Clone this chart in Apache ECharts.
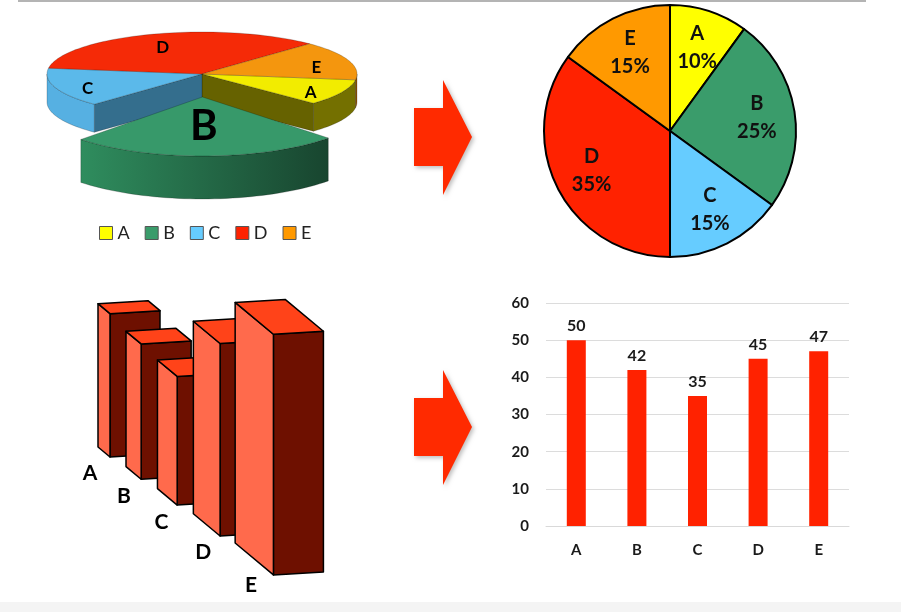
<!DOCTYPE html>
<html>
<head>
<meta charset="utf-8">
<style>
  html, body { margin: 0; padding: 0; background: #fff; }
  #main { width: 901px; height: 612px; }
</style>
<script src="https://cdn.jsdelivr.net/npm/echarts@6/dist/echarts.min.js"></script>
</head>
<body>
<div id="main"></div>
<script>
// ---- data ----
var names = ['A', 'B', 'C', 'D', 'E'];
var shares = [10, 25, 15, 35, 15];       // pie, percent
var barValues = [50, 42, 35, 45, 47];    // bar chart
var pulledOut = 'B';                     // exploded slice of the 3D pie

// ---- styles ----
var FONT = 'Lato, "Open Sans", sans-serif';
var pieColors = ['#ffff00', '#3a9c6b', '#66ccff', '#ff2200', '#ff9900'];
var topColors = ['#f2ec00', '#37996a', '#5bb9ea', '#f52a07', '#f4960e'];
var wallColors = ['#747000', '#2e8a5c', '#56b0e2', '#8a1a00', '#8c5200'];
var cutColors = ['#666200', '#24704b', '#346e8d', '#7a1500', '#7a4800'];

// layout of the tilted pie
var P3 = { cx: 202, cy: 74, rx: 155, ry: 42, depth: 28, start: 8,
           pull: 23, exRx: 175, exRy: 59, exDepth: 43 };
// layout of the perspective bars
var B3 = { x0: 98, y0: 447, persp: 0.11, stepX: 28, stepY: 19.6,
           sideX: 12, sideY: 10, frontX: 50, frontY: -3 };

var chart = echarts.init(document.getElementById('main'));

function pie3d(params, api) {
    var i = params.dataIndex, n = shares.length;
    var total = shares.reduce(function (a, b) { return a + b; }, 0);
    var cum = 0;
    for (var k = 0; k < i; k++) cum += shares[k];
    var a0 = P3.start + 360 * cum / total;
    var a1 = a0 + 360 * api.value(0) / total;
    var ex = names[i] === pulledOut;
    var cx = P3.cx, cy = P3.cy, rx = P3.rx, ry = P3.ry, dp = P3.depth;
    if (ex) {
        var m = (a0 + a1) / 2 * Math.PI / 180;
        cx += P3.pull * Math.cos(m);
        cy += P3.pull * Math.sin(m);
        rx = P3.exRx; ry = P3.exRy; dp = P3.exDepth;
    }
    function pt(deg, dz) {
        var r = deg * Math.PI / 180;
        return [cx + rx * Math.cos(r), cy + ry * Math.sin(r) + (dz || 0)];
    }
    function arc(s, e, dz) {
        var pts = [], steps = Math.max(2, Math.ceil((e - s) / 2));
        for (var j = 0; j <= steps; j++) pts.push(pt(s + (e - s) * j / steps, dz));
        return pts;
    }
    var edge = { stroke: 'rgba(0,0,0,0.35)', lineWidth: 0.6 };
    var zb = ex ? 10 : 0;
    var kids = [];

    // radial faces next to the pulled-out slice
    function cut(a) {
        kids.push({ type: 'polygon', z2: zb + 1,
            shape: { points: [[cx, cy], pt(a), pt(a, dp), [cx, cy + dp]] },
            style: Object.assign({ fill: cutColors[i] }, edge) });
    }
    if (!ex && names[(i + 1) % n] === pulledOut) cut(a1);
    if (!ex && names[(i + n - 1) % n] === pulledOut) cut(a0);

    // front walls
    [0, 360].forEach(function (base) {
        var lo = Math.max(a0, base), hi = Math.min(a1, base + 180);
        if (hi > lo) {
            var fill = ex ? { type: 'linear', x: 0, y: 0, x2: 1, y2: 0,
                colorStops: [{ offset: 0, color: '#2f8d5e' }, { offset: 1, color: '#18452f' }] }
                : wallColors[i];
            kids.push({ type: 'polygon', z2: zb + 2,
                shape: { points: arc(lo, hi, 0).concat(arc(lo, hi, dp).reverse()) },
                style: Object.assign({ fill: fill }, edge) });
        }
    });

    // top face
    kids.push({ type: 'polygon', z2: zb + 3,
        shape: { points: [[cx, cy]].concat(arc(a0, a1, 0)) },
        style: Object.assign({ fill: topColors[i] }, edge) });

    // label
    var mid = (a0 + a1) / 2 * Math.PI / 180, f = ex ? 0.5 : 0.78;
    kids.push({ type: 'text', z2: 30,
        style: { text: names[i], x: cx + rx * f * Math.cos(mid), y: cy + ry * f * Math.sin(mid) + (ex ? 0 : 4),
                 fill: '#000', fontSize: ex ? 42 : 17, fontWeight: 'bold', fontFamily: FONT,
                 align: 'center', verticalAlign: 'middle' } });
    return { type: 'group', children: kids };
}

function bar3d(params, api) {
    var i = api.value(0), v = api.value(1);
    var s = 1 / (1 - B3.persp * i);
    var h = api.size([0, v])[1] * s;
    var x = B3.x0, y = B3.y0;
    for (var j = 0; j < i; j++) {
        var sj = 1 / (1 - B3.persp * j);
        x += B3.stepX * sj; y += B3.stepY * sj;
    }
    var lx = B3.sideX * s * s, ly = B3.sideY * s * s;
    var fx = B3.frontX, fy = B3.frontY;
    var blT = [x, y - h], blB = [x, y];
    var flT = [x + lx, y - h + ly], flB = [x + lx, y + ly];
    var frT = [flT[0] + fx, flT[1] + fy], frB = [flB[0] + fx, flB[1] + fy];
    var brT = [x + fx, y - h + fy];
    var line = { stroke: '#000', lineWidth: 1.5, lineJoin: 'round' };
    return { type: 'group', children: [
        { type: 'polygon', z2: i * 5 + 1, shape: { points: [flT, frT, frB, flB] },
          style: Object.assign({ fill: '#6e1000' }, line) },
        { type: 'polygon', z2: i * 5 + 2, shape: { points: [blT, flT, flB, blB] },
          style: Object.assign({ fill: '#ff6a4c' }, line) },
        { type: 'polygon', z2: i * 5 + 3, shape: { points: [blT, brT, frT, flT] },
          style: Object.assign({ fill: '#ff4319' }, line) },
        { type: 'text', z2: 40,
          style: { text: names[i], x: x + 6 * i - 8, y: y + 26 + 4 * i,
                   fill: '#000', fontSize: 21, fontWeight: 'bold', fontFamily: FONT,
                   align: 'center', verticalAlign: 'middle' } }
    ] };
}

function arrow(top) {
    return { type: 'polygon', z: 10,
        shape: { points: [[414, top + 28], [443, top + 28], [443, top], [472, top + 57],
                          [443, top + 115], [443, top + 86], [414, top + 86]] },
        style: { fill: '#ff2a00', shadowBlur: 4, shadowOffsetX: 2, shadowOffsetY: 2,
                 shadowColor: 'rgba(0,0,0,0.25)' } };
}

var pieData = names.map(function (n, i) {
    return { name: n, value: shares[i], itemStyle: { color: pieColors[i] } };
});

var option = {
    backgroundColor: '#fff',
    animation: false,
    textStyle: { fontFamily: FONT },
    graphic: [
        { type: 'line', shape: { x1: 18, y1: 1, x2: 866, y2: 1 },
          style: { stroke: '#b4b4b4', lineWidth: 2 } },
        { type: 'rect', shape: { x: 0, y: 602, width: 901, height: 10 },
          style: { fill: '#f4f4f4' } },
        arrow(80),
        arrow(370)
    ],
    legend: {
        data: names, left: 94, top: 219, itemWidth: 13, itemHeight: 13, itemGap: 15,
        icon: 'rect', selectedMode: false,
        itemStyle: { borderColor: '#555', borderWidth: 1 },
        textStyle: { fontSize: 18, color: '#222', fontFamily: FONT }
    },
    grid: [
        { left: 546, right: 52, top: 303, bottom: 86 },
        { left: 60, top: 276, width: 250, height: 172, show: false }
    ],
    xAxis: [
        { gridIndex: 0, type: 'category', data: names,
          axisLine: { lineStyle: { color: '#d9d9d9' } }, axisTick: { show: false },
          axisLabel: { color: '#1a1a1a', fontSize: 15, fontWeight: 'bold', margin: 17 } },
        { gridIndex: 1, type: 'category', data: names, show: false }
    ],
    yAxis: [
        { gridIndex: 0, type: 'value', min: 0, max: 60, interval: 10,
          axisLine: { show: false }, axisTick: { show: false },
          splitLine: { lineStyle: { color: '#dcdcdc' } },
          axisLabel: { color: '#1a1a1a', fontSize: 15, fontWeight: 'bold', margin: 17 } },
        { gridIndex: 1, type: 'value', min: 0, max: 60, show: false }
    ],
    series: [
        { type: 'pie', center: [670, 131], radius: [0, 126], startAngle: 90, clockwise: true,
          data: pieData, silent: true,
          itemStyle: { borderColor: '#000', borderWidth: 2 },
          label: { show: false }, labelLine: { show: false } },
        { type: 'pie', center: [670, 131], radius: [44, 126], startAngle: 90, clockwise: true,
          silent: true, z: 3,
          data: names.map(function (n, i) { return { name: n, value: shares[i] }; }),
          itemStyle: { color: 'rgba(0,0,0,0)', borderWidth: 0 },
          label: { show: true, position: 'inside', formatter: '{b}\n{d}%',
                   color: '#111', fontSize: 20, fontWeight: 'bold', lineHeight: 28, fontFamily: FONT },
          labelLine: { show: false } },
        { type: 'custom', name: '3d pie', coordinateSystem: 'none', silent: true,
          renderItem: pie3d,
          data: shares.map(function (v, i) { return [v, i]; }) },
        { type: 'custom', name: '3d bars', xAxisIndex: 1, yAxisIndex: 1, silent: true,
          renderItem: bar3d, encode: { x: 0, y: 1 },
          data: barValues.map(function (v, i) { return [i, v]; }) },
        { type: 'bar', xAxisIndex: 0, yAxisIndex: 0, data: barValues, barWidth: 19,
          itemStyle: { color: '#ff2200' },
          label: { show: true, position: 'top', distance: 6, color: '#1a1a1a',
                   fontSize: 16, fontWeight: 'bold' } }
    ]
};
chart.setOption(option);
</script>
</body>
</html>
